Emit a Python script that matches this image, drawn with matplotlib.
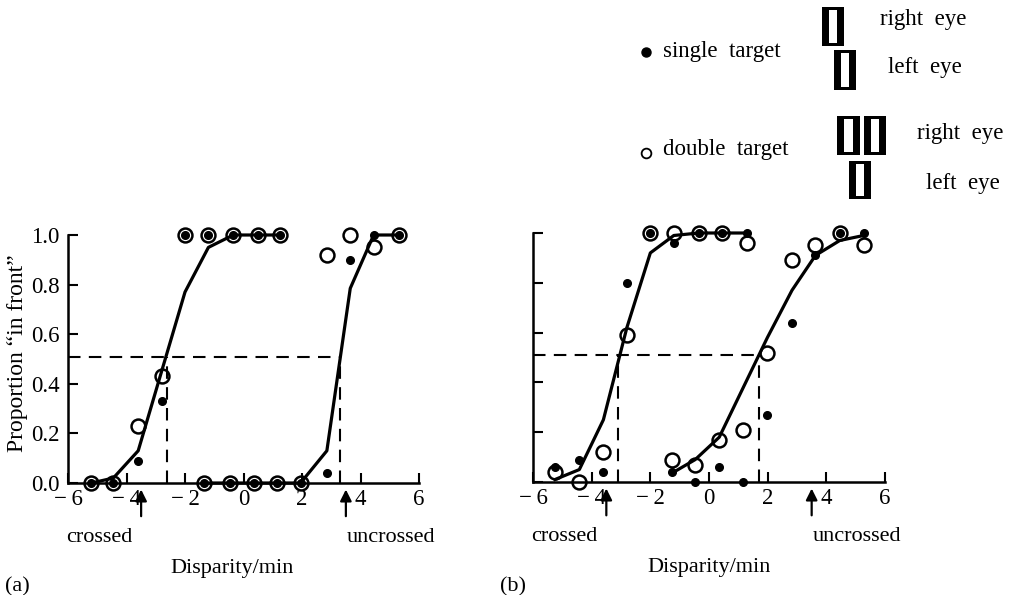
import matplotlib
matplotlib.use("Agg")
import matplotlib.pyplot as plt
from matplotlib.patches import Rectangle

plt.rcParams["font.family"] = ["Liberation Serif", "DejaVu Serif"]
plt.rcParams["axes.unicode_minus"] = True

# ── data ──
# panel (a)
xa_left = [-5.2, -4.45, -3.6, -2.8, -2.0, -1.2, -0.35, 0.5, 1.25]
a_single_left = [0.0, 0.0, 0.09, 0.33, 1.0, 1.0, 1.0, 1.0, 1.0]
a_double_left = [0.0, 0.0, 0.23, 0.43, 1.0, 1.0, 1.0, 1.0, 1.0]
a_fit_left = [0.0, 0.02, 0.13, 0.45, 0.77, 0.95, 1.0, 1.0, 1.0]

xa_right = [-1.35, -0.45, 0.35, 1.15, 1.95, 2.85, 3.65, 4.45, 5.3]
a_single_right = [0.0, 0.0, 0.0, 0.0, 0.0, 0.04, 0.90, 1.0, 1.0]
a_double_right = [0.0, 0.0, 0.0, 0.0, 0.0, 0.92, 1.0, 0.95, 1.0]
a_fit_right = [0.0, 0.0, 0.0, 0.0, 0.0, 0.13, 0.785, 1.0, 1.0]

a_thresh = [-2.6, 3.3]

# panel (b)
xb_left = [-5.25, -4.42, -3.6, -2.8, -2.0, -1.2, -0.35, 0.45, 1.28]
b_single_left = [0.06, 0.09, 0.04, 0.80, 1.0, 0.96, 1.0, 1.0, 1.0]
b_double_left = [0.04, 0.0, 0.12, 0.59, 1.0, 1.0, 1.0, 1.0, 0.96]
b_fit_left = [0.01, 0.05, 0.25, 0.62, 0.92, 0.99, 1.0, 1.0, 1.0]

xb_right = [-1.27, -0.47, 0.35, 1.17, 1.99, 2.83, 3.63, 4.46, 5.27]
b_single_right = [0.04, 0.0, 0.06, 0.0, 0.27, 0.64, 0.91, 1.0, 1.0]
b_double_right = [0.09, 0.07, 0.17, 0.21, 0.52, 0.89, 0.95, 1.0, 0.95]
b_fit_right = [0.035, 0.09, 0.18, 0.38, 0.58, 0.77, 0.91, 0.97, 0.99]

b_thresh = [-3.1, 1.7]

half_level = 0.51
arrow_x = [-3.5, 3.5]
x_ticks = [-6, -4, -2, 0, 2, 4, 6]
x_labels = ["\u2212\u20096", "\u2212\u20094", "\u2212\u20092", "0", "2", "4", "6"]
y_ticks = [0.0, 0.2, 0.4, 0.6, 0.8, 1.0]
y_labels = ["0.0", "0.2", "0.4", "0.6", "0.8", "1.0"]

W, H = 1010, 595
FS = 16
TFS = 16.5


def fx(px):
    return px / W


def fy(py):
    return 1 - py / H


fig = plt.figure(figsize=(W / 100, H / 100), dpi=100)


def draw_panel(ax, groups, thresh, show_ylabels, xlabel_x):
    for x, single, double, fit in groups:
        ax.plot(x, fit, color="black", lw=2.3, clip_on=False, zorder=2)
        ax.plot(x, double, "o", ms=10, mfc="none", mec="black", mew=1.8,
                clip_on=False, zorder=3)
        ax.plot(x, single, "o", ms=5.5, color="black", clip_on=False, zorder=4)

    ax.plot([-6, thresh[1]], [half_level, half_level], color="black",
            lw=1.5, dashes=(6, 4), zorder=1)
    for t in thresh:
        ax.plot([t, t], [0, half_level], color="black", lw=1.5,
                dashes=(6, 4), zorder=1)

    ax.set_xlim(-6, 6)
    ax.set_ylim(0, 1.0)
    ax.set_xticks(x_ticks)
    ax.set_xticklabels(x_labels, fontsize=TFS)
    ax.set_yticks(y_ticks)
    if show_ylabels:
        ax.set_yticklabels(y_labels, fontsize=TFS)
    else:
        ax.set_yticklabels([])
    ax.tick_params(direction="in", length=7, width=1.5, pad=6)
    ax.tick_params(axis="x", pad=4)
    for s in ["top", "right"]:
        ax.spines[s].set_visible(False)
    for s in ["left", "bottom"]:
        ax.spines[s].set_linewidth(1.8)

    for xa in arrow_x:
        ax.annotate("", xy=(xa, -0.015), xytext=(xa, -0.145),
                    arrowprops=dict(arrowstyle="-|>", color="black", lw=1.6,
                                    mutation_scale=17),
                    annotation_clip=False)

    trans = ax.get_xaxis_transform()
    ax.text(-6.05, -0.22, "crossed", transform=trans, fontsize=FS,
            ha="left", va="center")
    ax.text(6.55, -0.22, "uncrossed", transform=trans, fontsize=FS,
            ha="right", va="center")
    ax.text(xlabel_x, -0.345, "Disparity/min", transform=trans, fontsize=FS,
            ha="center", va="center")


ax_a = fig.add_axes([fx(68), fy(483), fx(351), 248 / H])
ax_b = fig.add_axes([fx(533), fy(482), fx(352), 249 / H])

draw_panel(ax_a,
           [(xa_left, a_single_left, a_double_left, a_fit_left),
            (xa_right, a_single_right, a_double_right, a_fit_right)],
           a_thresh, True, -0.4)
draw_panel(ax_b,
           [(xb_left, b_single_left, b_double_left, b_fit_left),
            (xb_right, b_single_right, b_double_right, b_fit_right)],
           b_thresh, False, 0.0)

fig.text(fx(5), fy(587), "(a)", fontsize=FS, ha="left", va="center")
fig.text(fx(500), fy(587), "(b)", fontsize=FS, ha="left", va="center")
fig.text(fx(18), fy(353), "Proportion \u201cin front\u201d", fontsize=17,
         rotation=90, ha="center", va="center")

# ── legend with eye stimuli ──
LFS = 16.5
fig.add_artist(plt.Line2D([fx(646)], [fy(52)], marker="o", ms=6.5,
                          color="black", transform=fig.transFigure))
fig.add_artist(plt.Line2D([fx(646)], [fy(153)], marker="o", ms=7, mfc="none",
                          mec="black", mew=1.3, transform=fig.transFigure))
fig.text(fx(663), fy(52), "single  target", fontsize=LFS, va="center")
fig.text(fx(663), fy(150), "double  target", fontsize=LFS, va="center")
fig.text(fx(880), fy(19), "right  eye", fontsize=LFS, va="center")
fig.text(fx(888), fy(68), "left  eye", fontsize=LFS, va="center")
fig.text(fx(917), fy(134), "right  eye", fontsize=LFS, va="center")
fig.text(fx(926), fy(183), "left  eye", fontsize=LFS, va="center")


def bar_glyph(x0, y0, w, h):
    fig.add_artist(Rectangle((fx(x0), fy(y0 + h)), w / W, h / H,
                             facecolor="black", edgecolor="none",
                             transform=fig.transFigure))
    fig.add_artist(Rectangle((fx(x0 + 7), fy(y0 + h - 3)), (w - 14) / W,
                             (h - 6) / H, facecolor="white", edgecolor="none",
                             transform=fig.transFigure))


bar_glyph(822, 7, 22, 39)
bar_glyph(834, 50, 22, 40)
bar_glyph(837, 116, 23, 39)
bar_glyph(864, 116, 22, 39)
bar_glyph(849, 161, 22, 38)

fig.savefig("out.png", dpi=100)
